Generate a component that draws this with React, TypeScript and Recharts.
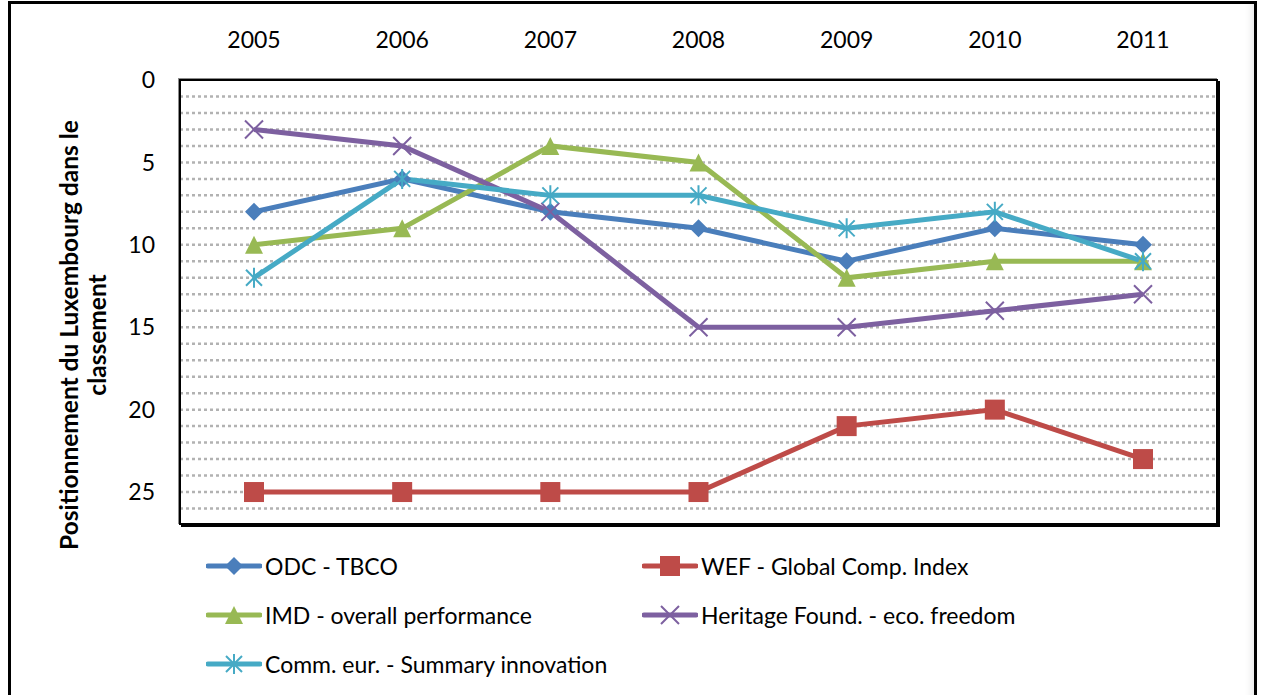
import React from 'react';
import { LineChart, Line, XAxis, YAxis, ReferenceLine } from 'recharts';

// classement du Luxembourg, 2005-2011
const years = ['2005', '2006', '2007', '2008', '2009', '2010', '2011'];
const odcTbco = [8, 6, 8, 9, 11, 9, 10];
const wefGlobalComp = [25, 25, 25, 25, 21, 20, 23];
const imdOverall = [10, 9, 4, 5, 12, 11, 11];
const heritageFreedom = [3, 4, 8, 15, 15, 14, 13];
const commInnovation = [12, 6, 7, 7, 9, 8, 11];

const yTicks = [0, 5, 10, 15, 20, 25];
const gridValues = [1, 2, 3, 4, 5, 6, 7, 8, 9, 10, 11, 12, 13, 14, 15, 16, 17, 18, 19, 20, 21, 22, 23, 24, 25, 26];

type Shape = 'diamond' | 'square' | 'triangle' | 'cross' | 'star';

const series: { key: string; name: string; color: string; shape: Shape; values: number[] }[] = [
    { key: 'odc', name: 'ODC - TBCO', color: '#4A7EBB', shape: 'diamond', values: odcTbco },
    { key: 'wef', name: 'WEF - Global Comp. Index', color: '#BE4B48', shape: 'square', values: wefGlobalComp },
    { key: 'imd', name: 'IMD - overall performance', color: '#98B954', shape: 'triangle', values: imdOverall },
    { key: 'her', name: 'Heritage Found. - eco. freedom', color: '#7D60A0', shape: 'cross', values: heritageFreedom },
    { key: 'comm', name: 'Comm. eur. - Summary innovation', color: '#46AAC5', shape: 'star', values: commInnovation },
];

const data = years.map((year, i) => {
    const row: Record<string, string | number> = { year };
    series.forEach((s) => {
        row[s.key] = s.values[i];
    });
    return row;
});

function Marker({ shape, color, cx, cy }: { shape: Shape; color: string; cx: number; cy: number }) {
    switch (shape) {
        case 'diamond':
            return <path d={`M${cx},${cy - 9}L${cx + 9},${cy}L${cx},${cy + 9}L${cx - 9},${cy}Z`} fill={color} />;
        case 'square':
            return <rect x={cx - 10} y={cy - 10} width={20} height={20} fill={color} />;
        case 'triangle':
            return <path d={`M${cx},${cy - 9}L${cx + 9},${cy + 9}L${cx - 9},${cy + 9}Z`} fill={color} />;
        case 'cross':
            return (
                <path
                    d={`M${cx - 9},${cy - 9}L${cx + 9},${cy + 9}M${cx - 9},${cy + 9}L${cx + 9},${cy - 9}`}
                    stroke={color}
                    strokeWidth={2}
                    fill="none"
                />
            );
        case 'star':
            return (
                <path
                    d={`M${cx - 8},${cy - 8}L${cx + 8},${cy + 8}M${cx - 8},${cy + 8}L${cx + 8},${cy - 8}M${cx},${cy - 10}L${cx},${cy + 10}`}
                    stroke={color}
                    strokeWidth={2}
                    fill="none"
                />
            );
    }
    return null;
}

function AxisTitle() {
    return (
        <g fontWeight="bold" fontSize={24.5} fill="#000">
            <text x={68} y={335} transform="rotate(-90 68 335)" textAnchor="middle" dominantBaseline="central">
                Positionnement du Luxembourg dans le
            </text>
            <text x={96} y={335} transform="rotate(-90 96 335)" textAnchor="middle" dominantBaseline="central">
                classement
            </text>
        </g>
    );
}

function LegendBox() {
    return (
        <div
            style={{
                position: 'absolute',
                left: 206,
                top: 541,
                display: 'grid',
                gridTemplateColumns: '436px 500px',
                gridAutoRows: '49px',
                fontSize: 23,
                color: '#000',
            }}
        >
            {series.map((s) => (
                <div key={s.key} style={{ display: 'flex', alignItems: 'center', whiteSpace: 'nowrap' }}>
                    <svg width={56} height={24} style={{ marginRight: 3 }}>
                        <line x1={2} y1={12} x2={54} y2={12} stroke={s.color} strokeWidth={5} strokeLinecap="round" />
                        <Marker shape={s.shape} color={s.color} cx={28} cy={12} />
                    </svg>
                    <span>{s.name}</span>
                </div>
            ))}
        </div>
    );
}

export default function App() {
    return (
        <div
            style={{
                position: 'absolute',
                left: 0,
                top: 0,
                width: 1261,
                height: 695,
                overflow: 'hidden',
                background: '#fff',
                fontFamily: 'Lato, sans-serif',
            }}
        >
            {/* cadre extérieur */}
            <div
                style={{
                    position: 'absolute',
                    left: 8,
                    top: 1,
                    width: 1243,
                    height: 720,
                    borderLeft: '3px solid #000',
                    borderTop: '3px solid #000',
                    borderRight: '3px solid #000',
                    boxShadow: 'inset -7px -12px 10px -6px rgba(0,0,0,0.12)',
                }}
            />
            <LineChart
                width={1261}
                height={695}
                data={data}
                margin={{ top: 20, right: 44, bottom: 170, left: 120 }}
                style={{ position: 'absolute', left: 0, top: 0 }}
            >
                {gridValues.map((v) => (
                    <ReferenceLine key={v} y={v} stroke="#B2B2B2" strokeWidth={2.5} strokeDasharray="3 3" />
                ))}
                <XAxis
                    dataKey="year"
                    orientation="top"
                    height={60}
                    axisLine={false}
                    tickLine={false}
                    tickSize={0}
                    tickMargin={32}
                    padding={{ left: 74, right: 74 }}
                    tick={{ fill: '#000', fontSize: 23 }}
                />
                <YAxis
                    reversed
                    domain={[0, 27]}
                    ticks={yTicks}
                    width={60}
                    axisLine={false}
                    tickLine={false}
                    tickSize={0}
                    tickMargin={25}
                    tick={{ fill: '#000', fontSize: 23 }}
                    label={{ content: () => <AxisTitle /> }}
                />
                {series.map((s) => (
                    <Line
                        key={s.key}
                        dataKey={s.key}
                        name={s.name}
                        stroke={s.color}
                        strokeWidth={5}
                        isAnimationActive={false}
                        activeDot={false}
                        dot={(p: any) => (
                            <Marker key={`${s.key}-${p.index}`} shape={s.shape} color={s.color} cx={p.cx} cy={p.cy} />
                        )}
                    />
                ))}
            </LineChart>
            {/* bordure de la zone de traçage */}
            <div
                style={{
                    position: 'absolute',
                    left: 179,
                    top: 79,
                    width: 1035,
                    height: 442,
                    border: '2px solid #000',
                    boxShadow: '2px 2px 0 #000, -1px -1px 0 #8c8c8c',
                    pointerEvents: 'none',
                }}
            />
            <LegendBox />
        </div>
    );
}
